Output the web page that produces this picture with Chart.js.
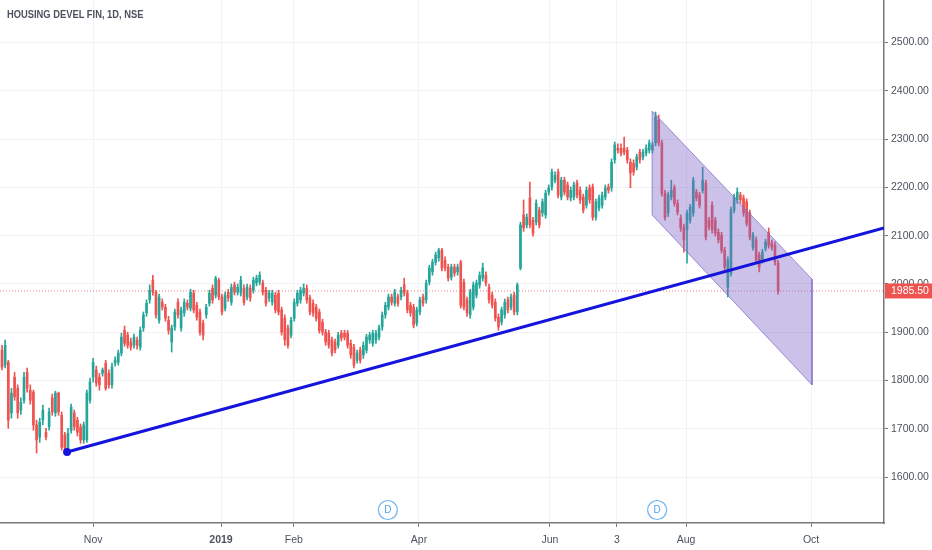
<!DOCTYPE html>
<html>
<head>
<meta charset="utf-8">
<title>HOUSING DEVEL FIN, 1D, NSE</title>
<script src="https://cdn.jsdelivr.net/npm/chart.js@4.4.1/dist/chart.umd.min.js"></script>
<style>
  html, body { margin: 0; padding: 0; background: #fff; }
  #wrap { position: relative; width: 932px; height: 550px; }
  #title {
    position: absolute; left: 7px; top: 8px;
    font: 600 11px "Liberation Sans", Arial, sans-serif;
    color: #4c525e; pointer-events: none;
    transform: scaleX(0.85); transform-origin: 0 50%;
    white-space: nowrap;
  }
</style>
</head>
<body>
<div id="wrap">
  <canvas id="chart" width="932" height="550"></canvas>
  <div id="title">HOUSING DEVEL FIN, 1D, NSE</div>
</div>
<script>
// daily candles, one per trading session (index = bar number)
const opens = [
  1863,1832,1838,1733,1807,1784,1739,1759,1817,1780,
  1776,1708,1683,1718,1693,1704,1764,1733,1774,1728,
  1687,1660,1697,1733,1718,1704,1677,1677,1759,1807,
  1822,1807,1815,1836,1815,1791,1836,1838,1857,1904,
  1894,1880,1873,1884,1869,1909,1940,1967,2008,1983,
  1925,1962,1952,1925,1880,1911,1962,1909,1940,1960,
  1950,1981,1956,1942,1919,1936,1960,1991,1977,2008,
  1973,1950,1983,1962,1998,1983,1981,1991,1973,1991,
  1987,2002,2004,2002,1987,1971,1962,1977,1981,1946,
  1929,1909,1894,1929,1960,1967,1981,1991,1971,1960,
  1952,1942,1921,1900,1898,1884,1880,1873,1898,1898,
  1898,1877,1869,1842,1863,1853,1863,1884,1877,1884,
  1890,1911,1936,1952,1973,1960,1973,1973,1998,1981,
  1956,1952,1919,1942,1973,1967,2004,2025,2045,2054,
  2070,2049,2035,2014,2035,2025,2045,2004,1967,1936,
  1952,1977,1998,2012,2018,1993,1977,1962,1931,1921,
  1936,1967,1952,1977,1942,2033,2143,2122,2178,2132,
  2128,2153,2147,2143,2190,2201,2215,2232,2180,2215,
  2205,2178,2180,2209,2194,2180,2163,2199,2201,2138,
  2157,2163,2180,2201,2199,2257,2281,2281,2281,2277,
  2252,2250,2242,2273,2263,2271,2277,2277,2292,2339,
  2292,2188,2147,2180,2199,2167,2136,2118,2112,2132,
  2147,2190,2184,2194,2209,2132,2163,2132,2107,2101,
  2070,1993,2022,2153,2174,2184,2178,2170,2147,2076,
  2091,2060,2049,2074,2107,2085,2080,2043
];
const highs = [
  1873,1884,1842,1784,1817,1791,1764,1817,1826,1791,
  1780,1718,1722,1749,1701,1743,1772,1778,1776,1735,
  1693,1701,1751,1739,1724,1710,1714,1780,1805,1846,
  1830,1815,1826,1842,1822,1836,1849,1863,1898,1913,
  1900,1888,1896,1890,1911,1942,1967,1998,2018,1987,
  1979,1969,1958,1933,1915,1948,1969,1952,1969,1967,
  1989,1987,1962,1948,1925,1958,1987,1998,2016,2012,
  1979,1983,1989,2000,2004,2000,2016,1998,2000,1998,
  2014,2018,2025,2008,1993,1987,1987,1983,1987,1952,
  1936,1915,1931,1969,1987,1993,2000,1998,1977,1967,
  1958,1948,1927,1906,1904,1890,1886,1900,1904,1904,
  1904,1884,1875,1863,1869,1880,1896,1900,1904,1904,
  1915,1942,1962,1979,1979,1989,1979,1993,2012,1987,
  1962,1958,1952,1973,1979,2008,2039,2051,2066,2074,
  2074,2056,2041,2041,2041,2041,2049,2010,1973,1989,
  2004,2008,2025,2043,2025,2000,1983,1969,1938,1952,
  1969,1973,1979,1983,2002,2128,2174,2145,2211,2138,
  2174,2159,2176,2194,2205,2238,2232,2238,2221,2221,
  2211,2201,2211,2215,2201,2186,2201,2205,2207,2176,
  2184,2190,2205,2207,2259,2294,2290,2290,2304,2283,
  2259,2257,2269,2279,2279,2288,2298,2294,2356,2350,
  2298,2194,2190,2215,2205,2174,2143,2124,2153,2165,
  2221,2196,2190,2242,2215,2138,2170,2138,2114,2107,
  2076,2056,2159,2186,2199,2190,2184,2176,2153,2107,
  2097,2066,2072,2093,2116,2091,2087,2049
];
const lows = [
  1822,1826,1701,1722,1759,1722,1730,1753,1776,1751,
  1697,1650,1672,1708,1677,1697,1728,1726,1728,1656,
  1650,1652,1691,1697,1685,1670,1670,1672,1753,1797,
  1788,1780,1809,1780,1784,1784,1830,1832,1851,1871,
  1867,1863,1867,1865,1863,1902,1933,1960,1977,1929,
  1919,1946,1923,1896,1859,1904,1929,1902,1933,1946,
  1944,1940,1925,1894,1884,1929,1954,1960,1971,1967,
  1936,1944,1964,1956,1977,1977,1975,1956,1967,1964,
  1981,1996,1998,1977,1954,1964,1956,1940,1936,1894,
  1873,1867,1888,1923,1954,1960,1975,1960,1936,1933,
  1923,1898,1894,1873,1867,1851,1857,1867,1882,1884,
  1867,1846,1826,1836,1836,1846,1857,1877,1871,1877,
  1884,1904,1929,1946,1956,1954,1954,1967,1975,1940,
  1933,1909,1913,1936,1954,1960,1998,2018,2039,2047,
  2027,2027,2006,2008,2016,2018,1950,1946,1933,1929,
  1946,1971,1991,2006,1996,1960,1950,1923,1904,1915,
  1929,1940,1946,1936,1936,2029,2109,2116,2116,2099,
  2122,2116,2140,2136,2184,2194,2209,2178,2174,2184,
  2174,2172,2174,2178,2167,2147,2157,2167,2132,2132,
  2151,2157,2174,2188,2192,2250,2271,2265,2267,2250,
  2199,2225,2236,2250,2257,2265,2271,2271,2286,2286,
  2182,2132,2140,2174,2161,2143,2109,2066,2043,2126,
  2140,2172,2157,2188,2091,2112,2105,2099,2085,2064,
  2029,1973,2016,2147,2167,2167,2140,2120,2091,2070,
  2043,2025,2043,2068,2074,2070,2039,1979
];
const closes = [
  1828,1873,1718,1774,1766,1733,1755,1807,1784,1759,
  1708,1677,1714,1739,1683,1735,1735,1774,1735,1662,
  1660,1691,1745,1704,1693,1677,1708,1774,1797,1838,
  1795,1791,1822,1784,1791,1828,1842,1857,1890,1877,
  1873,1869,1890,1873,1904,1936,1960,1987,1983,1936,
  1973,1952,1929,1904,1909,1942,1936,1946,1962,1952,
  1983,1946,1931,1900,1894,1952,1981,1967,2012,1973,
  1942,1977,1971,1993,1983,1993,2008,1962,1993,1971,
  2008,2012,2018,1983,1960,1981,1981,1946,1942,1900,
  1884,1873,1925,1962,1981,1987,1991,1967,1942,1940,
  1929,1904,1900,1880,1873,1857,1863,1894,1888,1890,
  1873,1853,1832,1857,1842,1873,1890,1894,1898,1898,
  1909,1936,1956,1973,1962,1983,1960,1987,1981,1946,
  1940,1915,1946,1967,1960,2002,2033,2045,2060,2070,
  2033,2033,2012,2035,2022,2035,1956,1952,1940,1983,
  1998,2002,2018,2033,2002,1967,1956,1929,1911,1946,
  1962,1946,1973,1942,1998,2122,2116,2138,2122,2105,
  2167,2122,2170,2188,2199,2232,2225,2184,2215,2190,
  2180,2194,2205,2184,2174,2153,2194,2174,2138,2170,
  2178,2184,2199,2194,2252,2288,2277,2271,2273,2257,
  2230,2232,2263,2257,2273,2281,2292,2288,2346,2292,
  2188,2138,2184,2194,2167,2149,2116,2091,2147,2159,
  2215,2178,2163,2215,2097,2118,2112,2105,2091,2070,
  2035,2049,2153,2180,2190,2174,2147,2126,2097,2101,
  2049,2035,2066,2087,2080,2076,2045,1985.5
];

// time axis labels (bar number where each label sits)
const tickIdx = [29.0, 69.7, 92.9, 132.7, 174.4, 195.7, 217.7, 257.5];
const tickLbl = ['Nov', '2019', 'Feb', 'Apr', 'Jun', '3', 'Aug', 'Oct'];
const priceTicks = [1600, 1700, 1800, 1900, 2000, 2100, 2200, 2300, 2400, 2500];

// dividend markers
const divIdx = [122.8, 208.5];

// drawings: rising trend line and falling channel
const trendX = [20.7, 280.7];
const trendY = [1652, 2116];
const chanX = [206.9, 257.8, 257.8, 206.9, 206.9];
const chanY = [2358, 2010, 1791, 2143, 2358];

const UP = '#26a69a';
const DOWN = '#ef5350';
const FONT = '"Liberation Sans", Arial, sans-serif';
const lastClose = closes[closes.length - 1];
const X_MIN = -0.64, X_MAX = 280.7;

const colors = closes.map((c, i) => c >= opens[i] ? UP : DOWN);
const bodies = opens.map((o, i) => ({ x: i, y: [o, closes[i]] }));
const wicks = lows.map((l, i) => ({ x: i, y: [l, highs[i]] }));

const noPad = s => {
  s.paddingLeft = 0; s.paddingRight = 0;
  s.paddingTop = 0; s.paddingBottom = 0;
};

const overlay = {
  id: 'overlay',
  afterDatasetsDraw(chart) {
    const ctx = chart.ctx;
    const xs = chart.scales.x;
    const area = chart.chartArea;
    ctx.save();
    divIdx.forEach(i => {
      const x = xs.getPixelForValue(i);
      const y = area.bottom - 13;
      ctx.beginPath();
      ctx.arc(x, y, 9.5, 0, Math.PI * 2);
      ctx.fillStyle = '#fff';
      ctx.fill();
      ctx.lineWidth = 1.2;
      ctx.strokeStyle = '#6cb4f2';
      ctx.stroke();
      ctx.fillStyle = '#4fa3ee';
      ctx.font = '10px ' + FONT;
      ctx.textAlign = 'center';
      ctx.textBaseline = 'middle';
      ctx.fillText('D', x, y + 0.5);
    });
    ctx.restore();
  },
  afterDraw(chart) {
    const ctx = chart.ctx;
    const ys = chart.scales.y;
    const area = chart.chartArea;
    const y = ys.getPixelForValue(lastClose);
    ctx.save();
    ctx.fillStyle = DOWN;
    ctx.fillRect(area.right + 1, y - 7.5, chart.width - area.right, 15);
    ctx.fillStyle = '#fff';
    ctx.font = '10.5px ' + FONT;
    ctx.textAlign = 'left';
    ctx.textBaseline = 'middle';
    ctx.fillText(lastClose.toFixed(2), area.right + 7, y + 0.5);
    ctx.restore();
  }
};

new Chart(document.getElementById('chart'), {
  type: 'bar',
  data: {
    datasets: [
      {
        type: 'line',
        data: [{ x: X_MIN, y: lastClose }, { x: X_MAX, y: lastClose }],
        borderColor: 'rgba(239,83,80,0.75)',
        borderWidth: 1,
        borderDash: [1, 2],
        pointRadius: 0,
        order: 5
      },
      {
        data: wicks,
        backgroundColor: colors,
        barThickness: 1,
        grouped: false,
        order: 4
      },
      {
        data: bodies,
        backgroundColor: colors,
        barThickness: 2,
        minBarLength: 1,
        grouped: false,
        order: 3
      },
      {
        type: 'line',
        data: chanX.map((x, i) => ({ x: x, y: chanY[i] })),
        borderColor: 'rgba(130,110,205,0.75)',
        borderWidth: 1,
        backgroundColor: 'rgba(126,100,200,0.4)',
        fill: 'shape',
        tension: 0,
        pointRadius: 0,
        order: 2
      },
      {
        type: 'line',
        data: trendX.map((x, i) => ({ x: x, y: trendY[i] })),
        borderColor: '#1414dc',
        backgroundColor: '#1414dc',
        borderWidth: 3,
        pointRadius: [2.5, 0],
        fill: false,
        order: 1
      }
    ]
  },
  options: {
    responsive: false,
    animation: false,
    layout: { padding: 0, autoPadding: false },
    plugins: { legend: { display: false }, tooltip: { enabled: false } },
    scales: {
      x: {
        type: 'linear',
        min: X_MIN,
        max: X_MAX,
        offset: false,
        afterBuildTicks: s => { s.ticks = tickIdx.map(v => ({ value: v })); },
        afterFit: s => { s.height = 27; noPad(s); },
        ticks: {
          autoSkip: false,
          maxRotation: 0,
          padding: 7,
          color: '#4c525e',
          font: c => ({
            family: FONT,
            size: 10.5,
            weight: c.tick && c.tick.value === tickIdx[1] ? 'bold' : 'normal'
          }),
          callback: (v, i) => tickLbl[i]
        },
        grid: { offset: false, color: '#f0f2f5', tickLength: 4, tickColor: '#787878' },
        border: { color: '#787878', width: 1.5 }
      },
      y: {
        position: 'right',
        min: 1505,
        max: 2588,
        afterBuildTicks: s => { s.ticks = priceTicks.map(v => ({ value: v })); },
        afterFit: s => { s.width = 48; noPad(s); },
        ticks: {
          padding: 3,
          crossAlign: 'near',
          color: '#4c525e',
          font: { family: FONT, size: 10.5 },
          callback: v => v.toFixed(2)
        },
        grid: { color: '#f0f2f5', tickLength: 4, tickColor: '#787878' },
        border: { color: '#787878', width: 1.5 }
      }
    }
  },
  plugins: [overlay]
});
</script>
</body>
</html>
